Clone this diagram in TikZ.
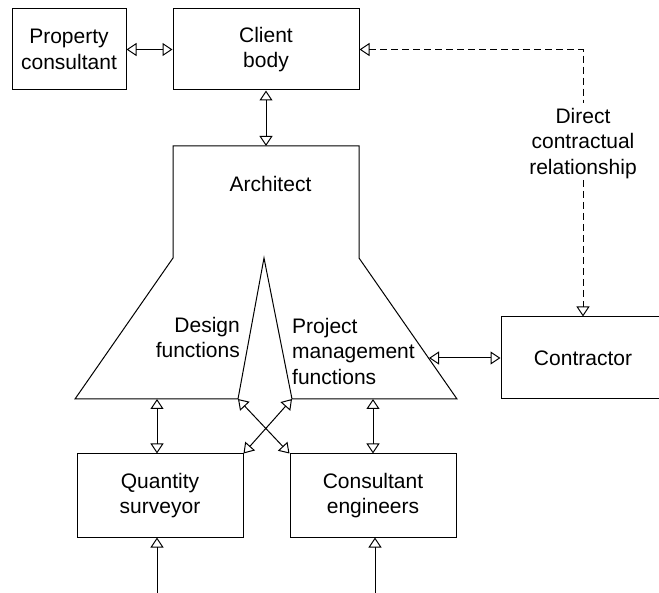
\documentclass[tikz,border=0pt]{standalone}
\usepackage{fontspec}
\setmainfont{Liberation Sans}
\usetikzlibrary{arrows.meta}
\begin{document}
\begin{tikzpicture}[x=1pt,y=-1pt,
  every node/.style={font=\fontsize{21}{25.5}\selectfont, inner sep=0pt},
  box/.style={draw, line width=1pt, align=center},
  lbl/.style={align=center},
  conn/.style={line width=1pt, {Triangle[open,length=10pt,width=13pt]}-{Triangle[open,length=10pt,width=13pt]}},
  oneway/.style={line width=1pt, -{Triangle[open,length=10pt,width=13pt]}},
  dashline/.style={line width=1pt, dash pattern=on 7pt off 4pt}]
\useasboundingbox (0,0) rectangle (659,593);

% boxes
\node[box, minimum width=114pt, minimum height=81pt] (pc) at (69,49.5) {Property\\consultant};
\node[box, minimum width=186pt, minimum height=81pt] (cb) at (266,49.5) {Client\\body};
\node[box, minimum width=164pt, minimum height=82pt] (con) at (583,358) {Contractor};
\node[box, minimum width=166pt, minimum height=83pt] (qs) at (160,495.5) {Quantity\\surveyor};
\node[box, minimum width=166pt, minimum height=83pt] (ce) at (373,495.5) {Consultant\\engineers};

% architect shape
\coordinate (a1) at (75,399);
\coordinate (tL) at (238,399);
\coordinate (apex) at (264,258);
\coordinate (tR) at (292,399);
\coordinate (a2) at (457,399);
\coordinate (a3) at (359,258);
\coordinate (a4) at (359,146);
\coordinate (a5) at (173,146);
\coordinate (a6) at (173,258);
\draw[line width=1pt, line join=miter] (a1) -- (tL) -- (apex) -- (tR) -- (a2) -- (a3) -- (a4) -- (a5) -- (a6) -- cycle;

\node[anchor=base] (arch) at (270.5,192) {Architect};
\node[lbl, align=right, anchor=north east] (des) at (240,317) {Design\\functions};
\node[lbl, align=left, anchor=north west] (pm) at (292,318) {Project\\management\\functions};

% connector coordinates
\coordinate (archtop) at (266,146);
\coordinate (aq) at (157,399);
\coordinate (ae) at (373,399);
\coordinate (ac) at (429,358);
\coordinate (corner) at (583,49.5);
\coordinate (qsin) at (157,593);
\coordinate (cein) at (375,593);

\node[lbl, anchor=north] (dcr) at (583,108) {Direct\\contractual\\relationship};

% connectors
\draw[conn] (pc.east) -- (cb.west);
\draw[conn] (cb.south) -- (cb.south |- archtop);
\draw[conn] (ac) -- (ac -| con.west);
\draw[conn] (aq) -- (aq |- qs.north);
\draw[conn] (ae) -- (ae |- ce.north);
\draw[conn] (qs.north east) -- (tR);
\draw[conn] (tL) -- (ce.north west);
\draw[oneway] (qsin) -- (qsin |- qs.south);
\draw[oneway] (cein) -- (cein |- ce.south);

\draw[dashline, {Triangle[open,length=10pt,width=13pt]}-] (cb.east) -- (corner) -- ([yshift=5pt]dcr.north);
\draw[dashline, -{Triangle[open,length=10pt,width=13pt]}] ([yshift=-1pt]dcr.south) -- (con.north);
\end{tikzpicture}
\end{document}
